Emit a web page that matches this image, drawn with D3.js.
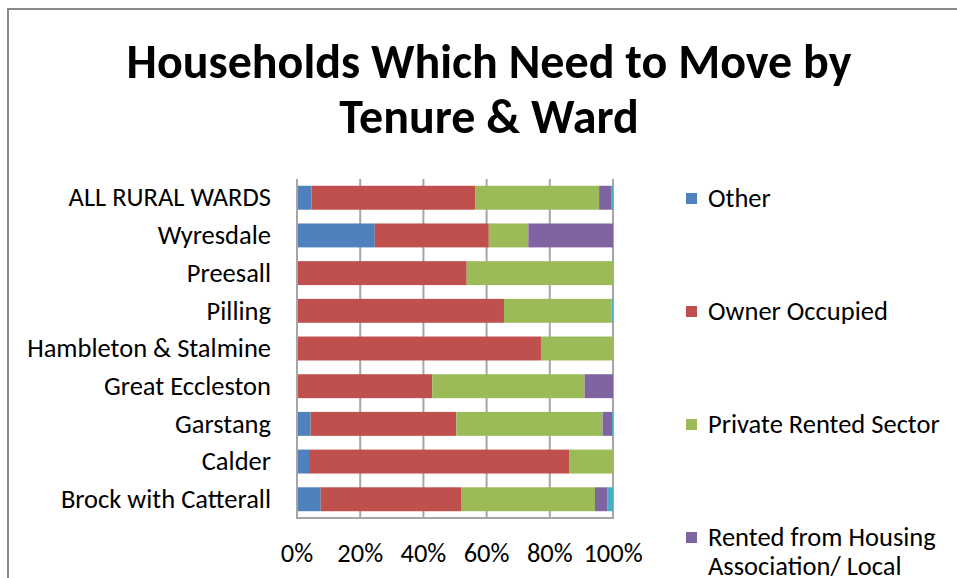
<!DOCTYPE html>
<html>
<head>
<meta charset="utf-8">
<script src="https://cdn.jsdelivr.net/npm/d3@7/dist/d3.min.js"></script>
<style>
html,body{margin:0;padding:0;background:#fff;overflow:hidden;}
svg{display:block;}
</style>
</head>
<body>
<svg id="chart" width="957" height="578"></svg>
<script>
// ---- data ----
const categories = ["ALL RURAL WARDS","Wyresdale","Preesall","Pilling","Hambleton & Stalmine","Great Eccleston","Garstang","Calder","Brock with Catterall"];
const other          = [4.6, 24.6, 0,    0,    0,    0,    4.3,  3.8,  7.5];
const ownerOccupied  = [51.9,36.1, 53.7, 65.5, 77.2, 42.8, 46.1, 82.3, 44.6];
const privateRented  = [39.1,12.5, 46.3, 34.1, 22.8, 48.2, 46.3, 13.9, 42.2];
const rentedHA       = [4.0, 26.8, 0,    0,    0,    9.0,  3.0,  0,    4.0];
const fifthSeries    = [0.4, 0,    0,    0.4,  0,    0,    0.3,  0,    1.7];
const seriesNames = ["Other","Owner Occupied","Private Rented Sector","Rented from Housing Association/ Local Authority","Tied"];
const legendLines = [["Other"],["Owner Occupied"],["Private Rented Sector"],["Rented from Housing","Association/ Local"]];
const tickValues = [0,20,40,60,80,100];
const titleLines = ["Households Which Need to Move by","Tenure & Ward"];
const colors = ["#4F81BD","#C0504D","#9BBB59","#8064A2","#4BACC6"];

const seriesValues = [other, ownerOccupied, privateRented, rentedHA, fifthSeries];
const rows = categories.map((c,i)=>{
  const r = {cat:c};
  seriesValues.forEach((s,j)=>{ r["s"+j] = s[i]; });
  return r;
});
const keys = seriesValues.map((_,j)=>"s"+j);

const svg = d3.select("#chart");
const FONT = "Carlito, Lato, 'Open Sans', sans-serif";

// frame
svg.append("path").attr("d","M8,578 L8,9 L957,9")
  .attr("fill","none").attr("stroke","#8a8a8a").attr("stroke-width",2);

// scales
const x = d3.scaleLinear().domain([0,100]).range([297,613]);
const y = d3.scaleBand().domain(categories).range([179,518]).paddingInner(0.365).paddingOuter(0.18);

// fit font size helper
function fitSize(text, weight, target, base){
  const t = svg.append("text").attr("font-family",FONT).attr("font-weight",weight)
    .attr("font-size",base).text(text);
  const w = t.node().getComputedTextLength();
  t.remove();
  return base*target/w;
}
const labelSize = fitSize("Hambleton & Stalmine","normal",244,20);
const titleSize = fitSize(titleLines[0],"bold",725,40);

// title
svg.append("g").selectAll("text").data(titleLines).join("text")
  .attr("x",489).attr("y",(d,i)=>78+i*55)
  .attr("text-anchor","middle").attr("font-family",FONT).attr("font-weight","bold")
  .attr("font-size",titleSize).attr("fill","#000").text(d=>d);

// gridlines
svg.append("g").selectAll("line").data(tickValues.slice(1)).join("line")
  .attr("x1",d=>x(d)).attr("x2",d=>x(d)).attr("y1",179).attr("y2",518)
  .attr("stroke","#a6a6a6").attr("stroke-width",2);

// stacked bars
const stack = d3.stack().keys(keys)(rows);
svg.append("g").selectAll("g").data(stack).join("g")
  .attr("fill",(d,i)=>colors[i])
  .selectAll("rect").data(d=>d).join("rect")
  .attr("x",d=>x(d[0])).attr("width",d=>Math.max(0,x(d[1])-x(d[0])))
  .attr("y",d=>y(d.data.cat)).attr("height",y.bandwidth());

// axes lines
svg.append("line").attr("x1",297).attr("x2",297).attr("y1",179).attr("y2",519)
  .attr("stroke","#a6a6a6").attr("stroke-width",2);
svg.append("line").attr("x1",296).attr("x2",614).attr("y1",518).attr("y2",518)
  .attr("stroke","#a6a6a6").attr("stroke-width",2);

// category labels
svg.append("g").selectAll("text").data(categories).join("text")
  .attr("x",271).attr("y",d=>y(d)+y.bandwidth()/2+labelSize*0.33)
  .attr("text-anchor","end").attr("font-family",FONT).attr("font-size",labelSize)
  .attr("fill","#000").text(d=>d);

// x tick labels
svg.append("g").selectAll("text").data(tickValues).join("text")
  .attr("x",d=>x(d)).attr("y",562)
  .attr("text-anchor","middle").attr("font-family",FONT).attr("font-size",labelSize)
  .attr("fill","#000").text(d=>d+"%");

// legend
const lg = svg.append("g").selectAll("g").data(legendLines).join("g")
  .attr("transform",(d,i)=>`translate(686,${198+i*113})`);
lg.append("rect").attr("x",0).attr("y",-5).attr("width",11).attr("height",11)
  .attr("fill",(d,i)=>colors[i]);
lg.each(function(d){
  d3.select(this).selectAll("text").data(d).join("text")
    .attr("x",22).attr("y",(t,k)=>labelSize*0.33+k*29)
    .attr("font-family",FONT).attr("font-size",labelSize).attr("fill","#000").text(t=>t);
});
</script>
</body>
</html>
